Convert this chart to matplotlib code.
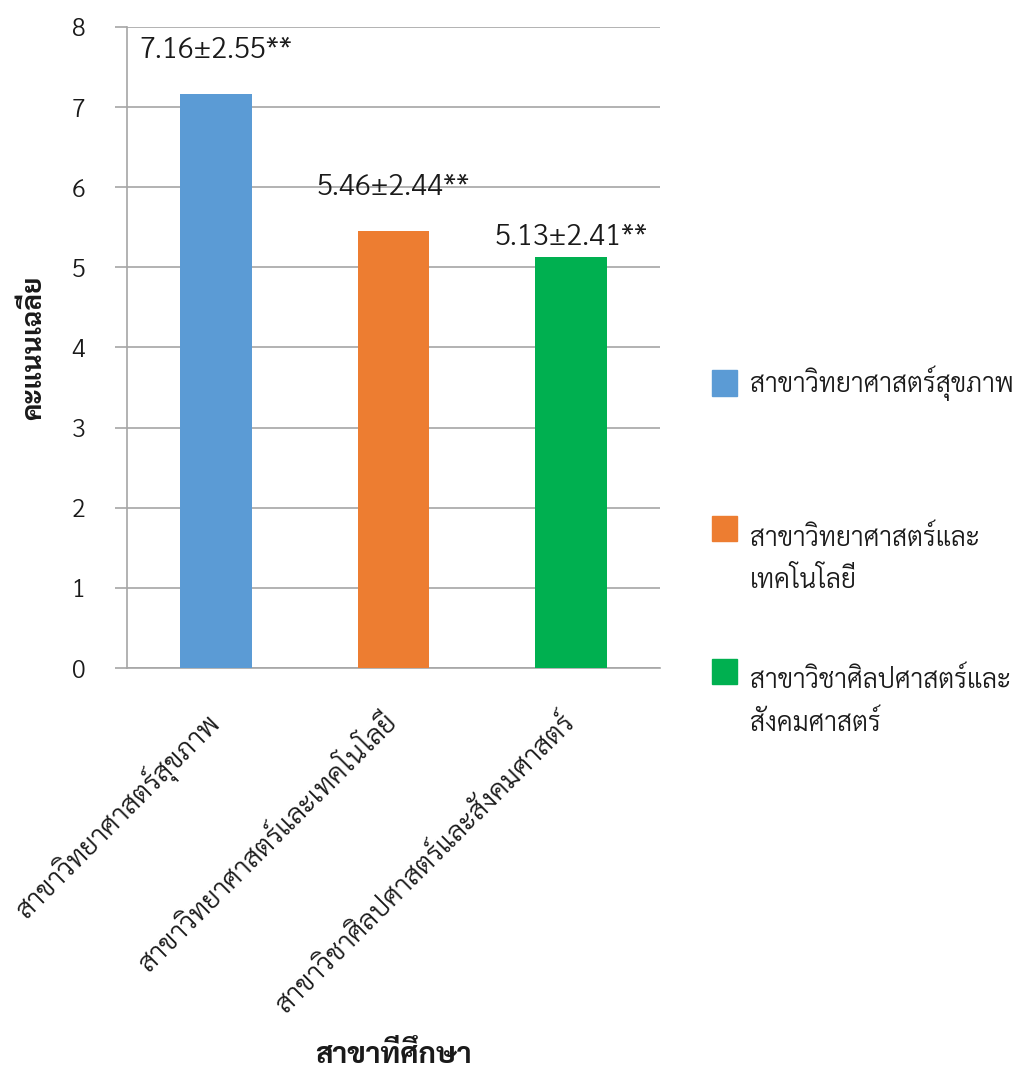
import matplotlib
matplotlib.use("Agg")
import matplotlib.pyplot as plt
from matplotlib.patches import Rectangle

# Mean knowledge score by field of study
categories = ["สาขาวิทยาศาสตร์สุขภาพ",
              "สาขาวิทยาศาสตร์และเทคโนโลยี",
              "สาขาวิชาศิลปศาสตร์และสังคมศาสตร์"]
legend_labels = ["สาขาวิทยาศาสตร์สุขภาพ",
                 "สาขาวิทยาศาสตร์และ\nเทคโนโลยี",
                 "สาขาวิชาศิลปศาสตร์และ\nสังคมศาสตร์"]
means = [7.16, 5.46, 5.13]
sds = [2.55, 2.44, 2.41]
yticks = [0, 1, 2, 3, 4, 5, 6, 7, 8]
colors = ["#5B9BD5", "#ED7D31", "#00B050"]

THAI = ["Sarabun", "DejaVu Sans"]
plt.rcParams["font.family"] = THAI
TXT = "#1a1a1a"
LIGHT = 300

fig = plt.figure(figsize=(10.34, 10.75), dpi=100)
ax = fig.add_axes([0.1228, 0.3786, 0.5155, 0.5963])

x = list(range(len(categories)))
bars = ax.bar(x, means, width=0.405, color=colors, zorder=3)

ax.set_xlim(-0.5, 2.5)
ax.set_ylim(0, 8)
ax.set_yticks(yticks)
ax.yaxis.grid(True, color="#A6A6A6", linewidth=1.2, zorder=0)
ax.set_axisbelow(True)
for side in ("top", "right"):
    ax.spines[side].set_visible(False)
for side in ("left", "bottom"):
    ax.spines[side].set_color("#A6A6A6")
    ax.spines[side].set_linewidth(1.2)
ax.tick_params(axis="y", direction="out", length=9, width=1.2, color="#A6A6A6",
               labelsize=18, pad=21, labelcolor=TXT)
for t in ax.get_yticklabels():
    t.set_fontweight(LIGHT)

ax.set_xticks(x)
ax.set_xticklabels(categories, rotation=45, ha="right", va="center",
                   rotation_mode="anchor", fontsize=20, color=TXT, fontweight=LIGHT)
ax.tick_params(axis="x", length=0, pad=36)

# Value labels: mean ± SD with significance marks
label_offsets = [44, 43, 19]
for xi, m, s, off in zip(x, means, sds, label_offsets):
    ax.annotate(f"{m:.2f}±{s:.2f}**", xy=(xi, m), xytext=(0, off * 0.72),
                textcoords="offset points", ha="center", va="center",
                fontsize=21, color=TXT, fontweight=LIGHT)

ax.set_ylabel("คะแนนเฉลี่ย", fontsize=20, fontweight="bold", color=TXT)
ax.yaxis.set_label_coords(-0.150, 0.5)
ax.set_xlabel("สาขาที่ศึกษา", fontsize=21, fontweight="bold", color=TXT)
ax.xaxis.set_label_coords(0.5, -0.605)
ax.xaxis.label.set_va("center")

# Legend on the right
leg_rows = [(383, 383), (528, 525), (671, 668)]
for (sq_y, txt_y), lab, c in zip(leg_rows, legend_labels, colors):
    fig.patches.append(Rectangle((712 / 1034, 1 - (sq_y + 12.5) / 1075), 25 / 1034, 25 / 1075,
                                 transform=fig.transFigure, color=c, figure=fig))
    fig.text(750 / 1034, 1 - txt_y / 1075, lab, ha="left", va="top" if "\n" in lab else "center",
             fontsize=19, color=TXT, linespacing=1.75, fontweight=LIGHT)

fig.savefig("out.png", dpi=100)
